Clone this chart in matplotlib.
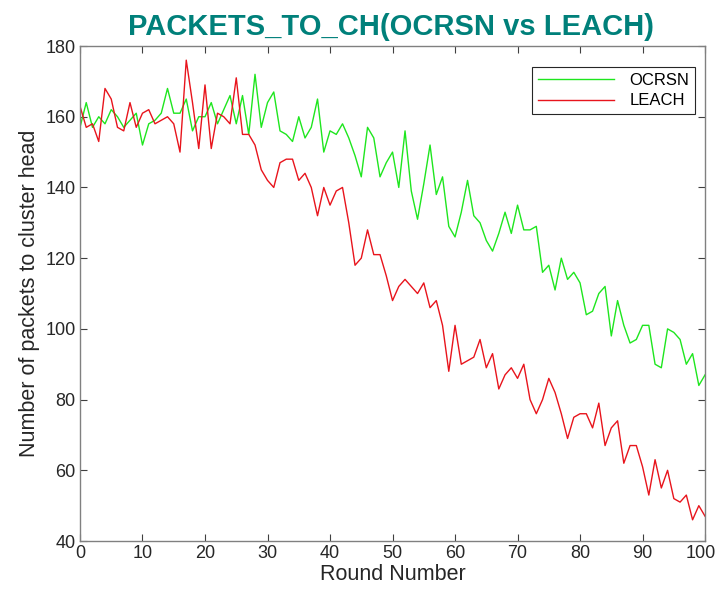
import matplotlib
matplotlib.use('Agg')
import matplotlib.pyplot as plt
import matplotlib.transforms as mtransforms
import numpy as np

rounds = np.arange(0, 101)

ocrsn = [157, 164, 157, 160, 158, 162, 160, 157, 159, 161,
         152, 158, 159, 161, 168, 161, 161, 165, 156, 160,
         160, 164, 158, 162, 166, 158, 166, 155, 172, 157,
         164, 167, 156, 155, 153, 160, 154, 157, 165, 150,
         156, 155, 158, 154, 149, 143, 157, 154, 143, 147,
         150, 140, 156, 139, 131, 141, 152, 138, 143, 129,
         126, 133, 142, 132, 130, 125, 122, 127, 133, 127,
         135, 128, 128, 129, 116, 118, 111, 120, 114, 116,
         113, 104, 105, 110, 112, 98, 108, 101, 96, 97,
         101, 101, 90, 89, 100, 99, 97, 90, 93, 84,
         87]

leach = [163, 157, 158, 153, 168, 165, 157, 156, 164, 157,
         161, 162, 158, 159, 160, 158, 150, 176, 164, 151,
         169, 151, 161, 160, 158, 171, 155, 155, 152, 145,
         142, 140, 147, 148, 148, 142, 144, 140, 132, 140,
         135, 139, 140, 130, 118, 120, 128, 121, 121, 115,
         108, 112, 114, 112, 110, 113, 106, 108, 101, 88,
         101, 90, 91, 92, 97, 89, 93, 83, 87, 89,
         86, 90, 80, 76, 80, 86, 82, 76, 69, 75,
         76, 76, 72, 79, 67, 72, 74, 62, 67, 67,
         61, 53, 63, 55, 60, 52, 51, 53, 46, 50,
         47]

plt.rcParams['font.family'] = ['Liberation Sans', 'DejaVu Sans']

fig = plt.figure(figsize=(7.18, 6.0), dpi=100)
ax = fig.add_axes([0.1114, 0.0983, 0.8706, 0.825])

ax.plot(rounds, ocrsn, color='#1ee61e', lw=1.0, label='OCRSN')
ax.plot(rounds, leach, color='#e8141c', lw=1.0, label='LEACH')

ax.set_xlim(0, 100)
ax.set_ylim(40, 180)
ax.set_xticks(np.arange(0, 101, 10))
ax.set_yticks(np.arange(40, 181, 20))
ax.tick_params(direction='in', top=True, right=True, length=5, width=0.8,
               labelsize=13, colors='#404040', labelcolor='#262626', pad=3)
for s in ax.spines.values():
    s.set_color('#808080')
    s.set_linewidth(1.0)

# keep the last x label inside the figure
fig.canvas.draw()
last = ax.get_xticklabels()[-1]
last.set_transform(last.get_transform() + mtransforms.ScaledTranslation(-4 / 100, 0, fig.dpi_scale_trans))

ax.set_xlabel('Round Number', fontsize=15.5, color='#262626', labelpad=1)
ax.set_ylabel('Number of packets to cluster head', fontsize=15.5, color='#262626', labelpad=4)
fig.text(0.545, 0.955, 'PACKETS_TO_CH(OCRSN vs LEACH)', ha='center', va='center',
         fontsize=21, fontweight='bold', color='#00807a')

leg = ax.legend(loc='upper right', bbox_to_anchor=(0.984, 0.958), fancybox=False,
                framealpha=1, edgecolor='#262626', fontsize=12, handlelength=4.6,
                borderpad=0.35, labelspacing=0.35, handletextpad=0.9, borderaxespad=0)
leg.get_frame().set_linewidth(0.8)

fig.savefig('out.png', dpi=100)
